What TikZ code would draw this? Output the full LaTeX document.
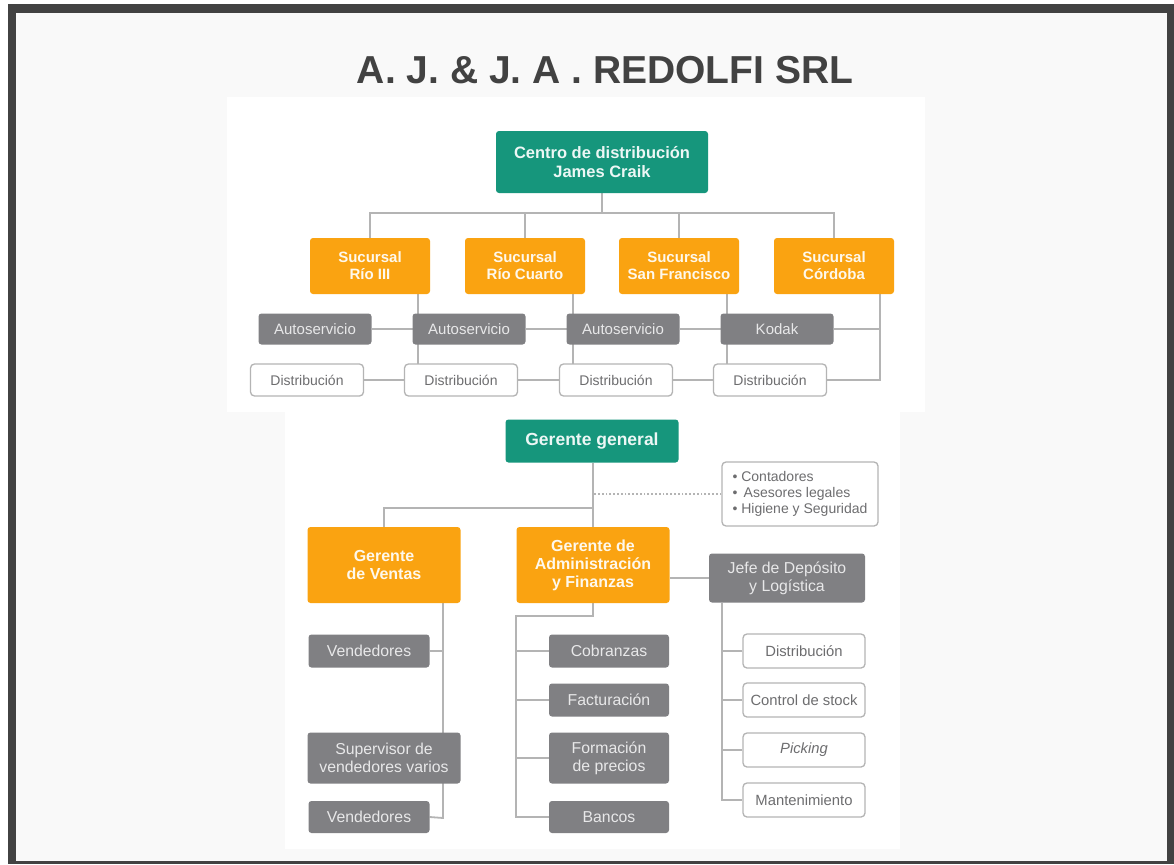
\documentclass[tikz,border=0pt]{standalone}
\usepackage{fontspec}
\setmainfont{Liberation Sans}
\pgfdeclarelayer{panel}
\pgfdeclarelayer{wires}
\pgfsetlayers{panel,wires,main}
\definecolor{tealbox}{RGB}{22,150,124}
\definecolor{orangebox}{RGB}{250,163,17}
\definecolor{graybox}{RGB}{128,128,131}
\definecolor{wiregray}{RGB}{180,180,180}
\definecolor{framegray}{RGB}{66,66,66}
\definecolor{pagegray}{RGB}{249,249,249}

\begin{document}
\begin{tikzpicture}[x=1pt,y=-1pt]
\tikzstyle{every node}+=[inner sep=0pt, align=center]
\tikzstyle{head}=[fill=tealbox, text=white!92!tealbox, rounded corners=3pt, font=\bfseries\fontsize{16.5}{19}\selectfont]
\tikzstyle{branch}=[fill=orangebox, text=white!92!orangebox, rounded corners=3pt, font=\bfseries\fontsize{15}{17}\selectfont]
\tikzstyle{unit}=[fill=graybox, text=white!82!graybox, rounded corners=3pt, font=\fontsize{15}{17}\selectfont]
\tikzstyle{leaf}=[fill=white, draw=wiregray, line width=1.3pt, text=graybox!85!black, rounded corners=4pt, font=\fontsize{14}{16}\selectfont]
\tikzstyle{wire}=[draw=wiregray, line width=1.8pt]
\useasboundingbox (0,0) rectangle (1174,864);
\begin{pgfonlayer}{panel}
\fill [framegray] (8,4) rectangle (1174,864);
\fill [pagegray] (16,13) rectangle (1167,861);
\fill [white] (227,97) rectangle (925,412);
\fill [white] (285,412) rectangle (900,849);
\end{pgfonlayer}
\node [text=framegray, font=\bfseries\fontsize{39}{44}\selectfont] (title) at (605,70) {A. J. \& J. A . REDOLFI SRL};

\node [head, minimum width=212, minimum height=62] (c0) at (602,162) {Centro de distribución\\James Craik};
\node [branch, minimum width=120, minimum height=56] (s1) at (370,266) {Sucursal\\Río III};
\node [branch, minimum width=120, minimum height=56] (s2) at (525,266) {Sucursal\\Río Cuarto};
\node [branch, minimum width=120, minimum height=56] (s3) at (679,266) {Sucursal\\San Francisco};
\node [branch, minimum width=120, minimum height=56] (s4) at (834,266) {Sucursal\\Córdoba};
\node [unit, minimum width=113, minimum height=31] (a1) at (315,329) {Autoservicio};
\node [unit, minimum width=113, minimum height=31] (a2) at (469,329) {Autoservicio};
\node [unit, minimum width=113, minimum height=31] (a3) at (623,329) {Autoservicio};
\node [unit, minimum width=113, minimum height=31] (a4) at (777,329) {Kodak};
\node [leaf, minimum width=113, minimum height=32] (d1) at (307,380) {Distribución};
\node [leaf, minimum width=113, minimum height=32] (d2) at (461,380) {Distribución};
\node [leaf, minimum width=113, minimum height=32] (d3) at (616,380) {Distribución};
\node [leaf, minimum width=113, minimum height=32] (d4) at (770,380) {Distribución};
\coordinate (t0) at (602,213);
\coordinate (k1) at (418,380);
\coordinate (k2) at (573,380);
\coordinate (k3) at (727,380);
\coordinate (k4) at (880,380);

\node [head, minimum width=173, minimum height=43, font=\bfseries\fontsize{17.5}{20}\selectfont] (g0) at (592,441) {Gerente general};
\node [leaf, minimum width=156, minimum height=64, align=left, font=\fontsize{14}{16}\selectfont] (cx) at (800,494) {• Contadores\\ •\, Asesores legales\\ • Higiene y Seguridad};
\node [branch, minimum width=153, minimum height=76, font=\bfseries\fontsize{16}{18}\selectfont] (g1) at (384,565) {Gerente\\de Ventas};
\node [branch, minimum width=153, minimum height=76, font=\bfseries\fontsize{16}{18}\selectfont] (g2) at (593,565) {Gerente de\\Administración\\y Finanzas};
\node [unit, minimum width=156, minimum height=49, font=\fontsize{15.8}{18}\selectfont] (g3) at (787,578) {Jefe de Depósito\\y Logística};
\node [unit, minimum width=121, minimum height=33, font=\fontsize{15.8}{18}\selectfont] (v1) at (369,651) {Vendedores};
\node [unit, minimum width=153, minimum height=51, font=\fontsize{15.8}{18}\selectfont] (v2) at (384,758) {Supervisor de\\vendedores varios};
\node [unit, minimum width=121, minimum height=32, font=\fontsize{15.8}{18}\selectfont] (v3) at (369,817) {Vendedores};
\node [unit, minimum width=120, minimum height=33, font=\fontsize{15.8}{18}\selectfont] (f1) at (609,651) {Cobranzas};
\node [unit, minimum width=120, minimum height=33, font=\fontsize{15.8}{18}\selectfont] (f2) at (609,700) {Facturación};
\node [unit, minimum width=120, minimum height=51, font=\fontsize{15.8}{18}\selectfont] (f3) at (609,758) {Formación\\de precios};
\node [unit, minimum width=120, minimum height=32, font=\fontsize{15.8}{18}\selectfont] (f4) at (609,817) {Bancos};
\node [leaf, minimum width=122, minimum height=34, font=\fontsize{14.8}{17}\selectfont] (l1) at (804,651) {Distribución};
\node [leaf, minimum width=122, minimum height=34, font=\fontsize{14.8}{17}\selectfont] (l2) at (804,700) {Control de stock};
\node [leaf, minimum width=122, minimum height=34, font=\itshape\fontsize{14.8}{17}\selectfont] (l3) at (804,750) {Picking};
\node [leaf, minimum width=122, minimum height=34, font=\fontsize{14.8}{17}\selectfont] (l4) at (804,800) {Mantenimiento};
\coordinate (t1) at (593,508);
\coordinate (k5) at (443,818);
\coordinate (k6) at (516,616);
\coordinate (k7) at (722,800);

\begin{pgfonlayer}{wires}
\draw [wire] (c0) -- (t0);
\draw [wire] (s1.north) |- (t0) -| (s4.north);
\draw [wire] (s2.north) -- (s2.north |- t0);
\draw [wire] (s3.north) -- (s3.north |- t0);
\draw [wire] (k1 |- s1.south) -- (k1) -- (d1.east);
\draw [wire] (k1 |- a1) -- (a1.east);
\draw [wire] (k2 |- s2.south) -- (k2) -- (d2.east);
\draw [wire] (k2 |- a2) -- (a2.east);
\draw [wire] (k3 |- s3.south) -- (k3) -- (d3.east);
\draw [wire] (k3 |- a3) -- (a3.east);
\draw [wire] (k4 |- s4.south) -- (k4) -- (d4.east);
\draw [wire] (k4 |- a4) -- (a4.east);

\draw [wire] (g2.north) -- (g2.north |- g0.south);
\draw [wire] (t1) -| (g1.north);
\draw [wire, dotted, line width=1.2pt] (cx.west) -- (cx.west -| g2.north);
\draw [wire] (g3.west) -- (g3.west -| g2.east);
\draw [wire] (k5 |- g1.south) -- (k5) -- (v3.east);
\draw [wire] (v1.east) -- (v1.east -| k5);
\draw [wire] (g2.south) |- (k6) -- (k6 |- f4) -- (f4.west);
\draw [wire] (f1.west) -- (f1.west -| k6);
\draw [wire] (f2.west) -- (f2.west -| k6);
\draw [wire] (f3.west) -- (f3.west -| k6);
\draw [wire] (k7 |- g3.south) -- (k7) -- (l4.west);
\draw [wire] (l1.west) -- (l1.west -| k7);
\draw [wire] (l2.west) -- (l2.west -| k7);
\draw [wire] (l3.west) -- (l3.west -| k7);
\end{pgfonlayer}
\end{tikzpicture}
\end{document}
